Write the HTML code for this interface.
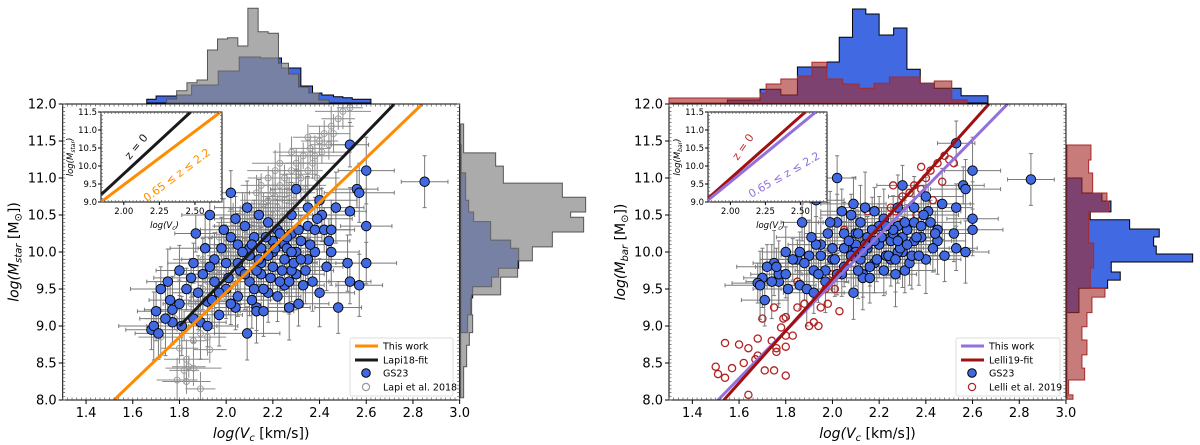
<!DOCTYPE html>
<html><head><meta charset="utf-8"><style>
body{margin:0;background:#fff}
svg{display:block;font-family:"DejaVu Sans","Liberation Sans",sans-serif}
</style></head><body>
<svg id="c" width="1200" height="445" viewBox="0 0 1200 445"></svg>
<script>
// ---------- data ----------
const gsVc   =[2.85,2.53,2.60,2.56,2.57,2.53,2.60,2.60,2.52,2.57,2.53,2.41,2.47,2.40,2.35,2.38,2.42,2.45,2.30,2.40,2.48,2.02,1.93,1.87,2.28,2.25,2.20,2.15,2.10,2.05,2.00,1.95,1.90,1.85,1.80,1.75,1.72,1.70,1.68,1.69,1.71,1.77,1.77,1.76,1.81,1.86,1.89,1.92,1.92,1.97,2.04,2.09,2.13,2.13,2.16,2.27,2.31,2.00,2.05,2.10,2.15,2.20,2.25,2.30,2.22,2.18,2.12,2.08,2.02,1.98,1.95,2.25,2.30,2.35,2.32,2.28,2.23,2.18,2.12,2.06,2.26,2.38,2.45,2.15,2.20,2.10,1.88,1.83,1.93,2.28,2.33,
 2.05,2.08,2.11,2.14,2.17,2.19,2.21,2.24,2.26,2.29,2.31,2.34,2.36,2.39,2.43,2.01,1.97,1.94,1.99,2.04,2.09,2.14,2.16,2.22,2.27,2.32,2.37,1.86,1.91,2.07,2.13,2.18,2.23,2.28,1.80,1.74,2.02,2.11,2.35,2.44];
const gsMstar=[10.95,11.45,11.10,10.85,10.80,10.55,10.35,9.85,9.85,9.55,9.60,10.50,10.60,10.70,10.35,10.30,10.30,10.30,10.85,9.45,9.25,10.80,10.50,10.25,10.25,10.10,10.00,10.05,9.95,10.10,9.85,9.90,9.70,9.65,9.75,9.60,9.50,9.20,8.95,9.00,8.90,9.05,9.22,9.35,9.00,9.10,9.05,9.00,9.33,9.15,9.25,8.90,9.25,9.20,9.20,9.25,9.30,9.50,9.40,9.60,9.70,9.80,9.90,10.00,10.30,10.40,10.20,10.35,10.20,10.05,9.60,9.55,9.70,9.90,10.15,10.50,9.60,9.45,9.50,9.75,10.05,10.00,10.00,9.85,10.15,10.05,9.45,9.50,9.80,9.75,9.55,
 9.85,9.70,10.10,9.90,10.20,9.65,10.05,9.75,10.20,9.85,10.30,9.75,10.10,10.45,9.80,9.65,9.45,9.35,10.30,10.45,10.60,10.50,9.50,9.40,9.60,9.90,9.60,9.85,10.05,10.00,9.75,9.95,10.25,10.00,9.30,9.10,9.30,9.35,10.60,10.15];
const gsMbar =[10.98,11.47,11.10,10.90,10.85,10.60,10.45,10.30,10.25,10.00,10.05,10.55,10.65,10.75,10.40,10.35,10.40,10.30,10.90,9.90,9.95,11.00,10.70,10.40,10.35,10.20,10.15,10.20,10.10,10.25,10.05,10.10,9.95,9.90,10.00,9.85,9.80,9.65,9.58,9.55,9.35,9.60,9.70,9.80,9.50,9.55,9.50,9.45,9.75,9.60,9.70,9.45,9.70,9.65,9.65,9.70,9.75,9.90,9.80,10.00,10.05,10.10,10.15,10.20,10.45,10.55,10.40,10.50,10.40,10.25,9.95,9.90,10.00,10.15,10.30,10.60,9.95,9.85,9.90,10.05,10.25,10.20,10.15,10.10,10.35,10.25,9.85,9.90,10.10,10.00,9.85,
 10.05,9.95,10.25,10.10,10.30,9.90,10.20,9.95,10.30,10.05,10.40,9.95,10.20,10.50,10.05,9.90,9.75,9.70,10.40,10.55,10.65,10.60,9.80,9.75,9.90,10.10,9.95,10.00,10.20,10.15,10.00,10.15,10.35,10.15,9.70,9.60,9.70,9.75,10.60,10.25];
const gsXerr =[0.10,0.08,0.12,0.09,0.15,0.07,0.11,0.13,0.08,0.10,0.09,0.14,0.12,0.16,0.10,0.09,0.13,0.08,0.11,0.15];
const gsYerr =[0.35,0.30,0.45,0.25,0.40,0.32,0.50,0.28,0.38,0.42,0.30,0.36,0.48,0.26,0.34,0.44,0.30,0.40,0.27,0.46];
const lapiVc =[1.85,1.88,1.90,1.92,1.93,1.95,1.96,1.97,1.98,2.00,2.00,2.02,2.03,2.05,2.05,2.07,2.08,2.10,2.10,2.12,2.13,2.15,2.15,2.17,2.18,2.20,2.20,2.22,2.23,2.25,2.25,2.27,2.28,2.30,2.30,2.32,2.33,2.35,2.36,2.38,2.40,2.42,2.45,2.48,2.50,2.53,1.95,2.00,2.05,2.12,2.18,2.22,2.27,1.90,1.97,2.03,2.08,2.13,2.18,2.23,1.80,1.82,1.83,1.84,1.86,1.86,1.79,1.83,1.89,1.92,1.93,1.89,1.72,1.78,1.82,
 1.95,1.98,2.01,2.04,2.06,2.09,2.11,2.14,2.16,2.19,2.21,2.24,2.26,2.29,2.31,2.34,2.37,2.39,2.41,2.44,2.46,2.00,2.07,2.15,2.21,2.28,2.35,1.92,1.99,2.06];
const lapiM  =[9.30,9.20,9.50,9.40,9.70,9.50,9.80,9.60,10.00,9.70,9.90,10.10,9.80,10.20,10.00,9.90,10.30,10.10,10.40,10.20,10.50,10.30,10.60,10.40,10.70,10.50,10.80,10.60,10.90,10.70,11.00,10.80,11.10,10.90,11.20,11.00,11.30,11.10,11.40,11.30,11.50,11.60,11.70,11.80,11.90,11.95,9.20,9.40,9.70,9.90,10.10,10.30,10.50,9.90,10.20,10.40,10.60,10.80,11.00,11.20,8.70,8.40,8.55,8.45,8.43,8.80,8.27,8.25,8.15,8.85,8.68,8.90,8.85,9.10,9.00,
 9.75,9.60,10.05,9.90,10.35,10.20,10.50,10.35,10.65,10.45,10.75,10.55,10.90,10.70,11.05,10.85,11.20,11.00,11.35,11.45,11.60,10.20,10.55,10.90,11.10,11.35,11.55,9.60,9.95,10.10];
const lelliVc=[1.50,1.51,1.54,1.54,1.57,1.62,1.64,1.64,1.67,1.68,1.68,1.71,1.74,1.75,1.76,1.76,1.78,1.80,1.80,1.80,1.83,1.79,1.80,1.85,1.90,1.92,1.94,1.95,2.03,1.88,1.92,1.97,2.00,2.05,2.08,2.10,2.12,2.15,2.18,2.20,2.22,2.25,2.27,2.30,2.33,2.35,2.38,2.40,2.42,2.45,2.48,2.50,2.52,2.47,2.43,2.36,2.30,1.85,1.75,1.70,2.05,2.15,2.26,2.38,2.01,1.98,1.60];
const lelliM =[8.45,8.35,8.77,8.30,8.43,8.50,8.70,8.07,8.55,8.60,8.83,8.40,8.80,8.40,8.65,8.70,8.98,8.72,8.33,8.87,8.87,9.10,9.12,9.25,9.00,9.05,9.00,9.25,9.20,9.30,9.45,9.50,9.70,9.80,9.95,10.10,9.90,10.20,10.30,10.15,10.45,10.60,10.55,10.75,10.80,10.90,10.85,11.00,11.10,11.20,11.30,11.25,11.20,10.95,10.70,10.50,10.40,9.60,9.25,9.10,10.30,10.55,10.90,11.15,9.50,9.30,8.75];
// fit lines [x1,y1,x2,y2]
const fitThisWorkL=[1.52,8.0,2.84,12.0];
const fitLapi     =[1.80,9.0,2.72,12.0];
const fitThisWorkR=[1.51,8.0,2.75,12.0];
const fitLelli    =[1.535,8.0,2.67,12.0];
const insetLz0L=[1.84,9.2,2.47,11.5], insetLhzL=[1.84,9.0,2.68,11.5];
const insetLz0R=[1.84,9.1,2.535,11.5], insetLhzR=[1.84,9.05,2.61,11.5];
// histograms: edges + heights
const topGreyEdges=[1.745,1.788,1.832,1.875,1.920,1.963,2.006,2.050,2.093,2.137,2.180,2.224,2.267,2.310,2.354,2.397,2.44];
const topGreyH    =[4,12.3,20.3,23,53,64,65.3,57,94.7,71.3,69.7,39.7,29,16,10,3];
const topBlueEdges=[1.66,1.70,1.788,1.852,1.966,2.056,2.147,2.237,2.32,2.37,2.41,2.46,2.50,2.54,2.62];
const topBlueH    =[3.7,7,8,18,32,46,45,35,17,10,8,6.3,5.3,3.7];
const sideGreyEdges=[8.03,8.45,8.74,8.91,9.15,9.42,9.66,9.88,10.07,10.27,10.47,10.54,10.74,10.93,11.16,11.34,11.73];
const sideGreyH    =[3,6,8.7,12,11,40,57,71.7,91.7,123,110,125,101.7,42.7,35,3];
const sideBlueEdges=[8.91,9.15,9.38,9.53,9.66,9.78,10.05,10.16,10.41,10.54,10.70,11.07,11.45];
const sideBlueH    =[7,10,12,31,38,58,50,30,13,8,5,0.5];
const rTopBlueEdges=[1.55,1.69,1.779,1.85,1.976,2.029,2.086,2.143,2.20,2.262,2.319,2.376,2.436,2.551,2.666];
const rTopBlueH    =[3,13.7,8,36,41,65.7,94,89,68,75,33.7,19.7,14.7,7.3];
const rTopRedEdges =[1.30,1.69,1.716,1.779,1.85,1.912,1.976,2.044,2.114,2.179,2.244,2.376,2.436,2.511,2.576];
const rTopRedH     =[5,9.7,19,24,27,40.7,24,19,14.7,19.7,26,19.7,22,3.3];
const rSideRedEdges=[8.01,8.07,8.27,8.43,8.61,8.81,8.99,9.18,9.39,9.51,9.784,9.932,10.122,10.543,10.689,10.797,11.068,11.243,11.446];
const rSideRedH    =[6,1.7,17.7,15,20,15,20,25,38,23.3,26.7,26.7,21.7,41.7,40,25.7,21.7,24];
const rSideBlueEdges=[9.18,9.51,9.62,9.73,9.865,9.973,10.081,10.203,10.311,10.435,10.543,10.689,10.797,11.0];
const rSideBlueH    =[12,40.7,53.3,44.3,125.7,89.3,86.7,92.3,62.7,23.3,44,35,15];
const xTicks=[1.4,1.6,1.8,2.0,2.2,2.4,2.6,2.8,3.0];
const yTicks=[8.0,8.5,9.0,9.5,10.0,10.5,11.0,11.5,12.0];
const inXTicks=[2.00,2.25,2.50];
const inYTicks=[9.0,9.5,10.0,10.5,11.0,11.5];

// ---------- drawing ----------
const svg=document.getElementById('c');
const NS='http://www.w3.org/2000/svg';
function mk(tag,attrs,parent,text){const e=document.createElementNS(NS,tag);for(const k in attrs)e.setAttribute(k,attrs[k]);if(text!==undefined)e.textContent=text;(parent||svg).appendChild(e);return e;}
const Y0=400, YT=104;
function ys(m){return Y0-(m-8)*74;}
const defs=mk('defs',{});

function stepTop(edges,h,xs,base){let d='M'+xs(edges[0])+','+base;for(let i=0;i<h.length;i++){d+=' L'+xs(edges[i])+','+(base-h[i])+' L'+xs(edges[i+1])+','+(base-h[i]);}d+=' L'+xs(edges[edges.length-1])+','+base+' Z';return d;}
function stepSide(edges,h,base){let d='M'+base+','+ys(edges[0]);for(let i=0;i<h.length;i++){d+=' L'+(base+h[i])+','+ys(edges[i])+' L'+(base+h[i])+','+ys(edges[i+1]);}d+=' L'+base+','+ys(edges[edges.length-1])+' Z';return d;}

function panel(P){
  const xs=v=>P.x0+(v-1.3)*233.5;
  const X1=xs(3.0);
  const g=mk('g',{});
  
  
  const a=mk('path',{d:stepTop(P.tA[0],P.tA[1],xs,103),fill:P.cA,stroke:P.sA,'stroke-width':1},g);
  
  const b=mk('path',{d:stepTop(P.tB[0],P.tB[1],xs,103),fill:P.cB,'fill-opacity':P.oB,stroke:P.sB,'stroke-width':1},g);
  
  const c=mk('path',{d:stepSide(P.sAh[0],P.sAh[1],X1+1),fill:P.cA,stroke:P.sA,'stroke-width':1},g);
  
  const d=mk('path',{d:stepSide(P.sBh[0],P.sBh[1],X1+1),fill:P.cB,'fill-opacity':P.oB,stroke:P.sB,'stroke-width':1},g);
  
  mk('rect',{x:P.x0,y:YT,width:X1-P.x0,height:Y0-YT,fill:'#fff'},g);
  const cp=mk('clipPath',{id:'cp'+P.name},defs);mk('rect',{x:P.x0,y:YT,width:X1-P.x0,height:Y0-YT},cp);
  const pl=mk('g',{'clip-path':'url(#cp'+P.name+')'},g);
  if(P.lapi){for(let i=0;i<lapiVc.length;i++){const x=xs(lapiVc[i]),y=ys(lapiM[i]);const ex=gsXerr[i%20]*233.5*0.8,ey=gsYerr[i%20]*74*0.6;
    mk('path',{d:`M${x-ex},${y}H${x+ex}M${x},${y-ey}V${y+ey}`,stroke:'#8c8c8c','stroke-width':1},pl);}}
  const my=P.my;
  for(let i=0;i<gsVc.length;i++){const x=xs(gsVc[i]),y=ys(my[i]);const ex=gsXerr[i%20]*233.5,ey=gsYerr[i%20]*74;
    const eb=mk('path',{d:`M${x-ex},${y}H${x+ex}M${x},${y-ey}V${y+ey}M${x-ex},${y-2}v4M${x+ex},${y-2}v4M${x-2},${y-ey}h4M${x-2},${y+ey}h4`,stroke:'#7a7a7a','stroke-width':1},pl);
    }
  if(P.lapi){for(let i=0;i<lapiVc.length;i++){const p=mk('circle',{cx:xs(lapiVc[i]),cy:ys(lapiM[i]),r:3,fill:'none',stroke:'#999','stroke-width':0.9},pl);
    }}
  if(!P.lapi){for(let i=0;i<lelliVc.length;i++){const p=mk('circle',{cx:xs(lelliVc[i]),cy:ys(lelliM[i]),r:3.6,fill:'none',stroke:'#b22222','stroke-width':1.3},pl);
    }}
  for(let i=0;i<gsVc.length;i++){const p=mk('circle',{cx:xs(gsVc[i]),cy:ys(my[i]),r:4.8,fill:'#4169e1',stroke:'#000','stroke-width':0.9},pl);
    }
  for(const f of P.fits){const l=mk('line',{x1:xs(f.d[0]),y1:ys(f.d[1]),x2:xs(f.d[2]),y2:ys(f.d[3]),stroke:f.c,'stroke-width':3},pl);
    }
  mk('rect',{x:P.x0,y:YT,width:X1-P.x0,height:Y0-YT,fill:'none',stroke:'#000','stroke-width':1},g);
  let t='';
  for(let v=1.3;v<=3.0001;v+=0.02){const x=xs(v);t+=`M${x},${Y0}v-2.5M${x},${YT}v2.5`;}
  for(let m=8;m<=12.0001;m+=0.05){const y=ys(m);t+=`M${P.x0},${y}h2.5M${X1},${y}h-2.5`;}
  mk('path',{d:t,stroke:'#555','stroke-width':0.7},g);
  for(const v of xTicks){const x=xs(v);mk('line',{x1:x,y1:Y0,x2:x,y2:Y0+4,stroke:'#000'},g);
    const tl=mk('text',{x:x,y:Y0+17,'font-size':13,'text-anchor':'middle'},g,v.toFixed(1));}
  for(const m of yTicks){const y=ys(m);mk('line',{x1:P.x0,y1:y,x2:P.x0-4,y2:y,stroke:'#000'},g);
    const tl=mk('text',{x:P.x0-6,y:y+4.5,'font-size':13,'text-anchor':'end'},g,m.toFixed(1));}
  const xl=mk('text',{x:(P.x0+X1)/2,y:Y0+38,'font-size':14,'text-anchor':'middle'},g);
  
  mk('tspan',{'font-style':'italic'},xl,'log(V');mk('tspan',{'font-size':10,dy:3,'font-style':'italic'},xl,'c');mk('tspan',{dy:-3},xl,' [km/s])');
  const yl=mk('text',{transform:`translate(${P.x0-44},252) rotate(-90)`,'font-size':14,'text-anchor':'middle'},g);
  
  mk('tspan',{'font-style':'italic'},yl,'log(M');mk('tspan',{'font-size':10,dy:3,'font-style':'italic'},yl,P.sub);mk('tspan',{dy:-3},yl,' [M');mk('tspan',{'font-size':10,dy:3},yl,'\u2299');mk('tspan',{dy:-3},yl,'])');
  const I=P.inset, ix=v=>I.x+(v-1.84)*((I.w)/(0.85)), iy=m=>I.y+I.h-(m-9)*(I.h/2.5);
  const ig=mk('g',{},g);
  mk('rect',{x:I.x,y:I.y,width:I.w,height:I.h,fill:'#fff',stroke:'#000'},ig);
  const icp=mk('clipPath',{id:'icp'+P.name},defs);mk('rect',{x:I.x,y:I.y,width:I.w,height:I.h},icp);
  const ipl=mk('g',{'clip-path':'url(#icp'+P.name+')'},ig);
  for(const f of I.lines){const l=mk('line',{x1:ix(f.d[0]),y1:iy(f.d[1]),x2:ix(f.d[2]),y2:iy(f.d[3]),stroke:f.c,'stroke-width':3},ipl);
    }
  let it='';
  for(let v=1.84;v<=2.69;v+=0.025){const x=ix(v);it+=`M${x},${I.y+I.h}v-2M${x},${I.y}v2`;}
  for(let m=9;m<=11.5001;m+=0.1){const y=iy(m);it+=`M${I.x},${y}h2M${I.x+I.w},${y}h-2`;}
  mk('path',{d:it,stroke:'#555','stroke-width':0.6},ig);
  for(const v of inXTicks){const x=ix(v);mk('line',{x1:x,y1:I.y+I.h,x2:x,y2:I.y+I.h+3,stroke:'#000'},ig);mk('text',{x:x,y:I.y+I.h+12,'font-size':8.5,'text-anchor':'middle'},ig,v.toFixed(2));}
  for(const m of inYTicks){const y=iy(m);mk('line',{x1:I.x,y1:y,x2:I.x-3,y2:y,stroke:'#000'},ig);mk('text',{x:I.x-4,y:y+3,'font-size':8.5,'text-anchor':'end'},ig,m.toFixed(1));}
  const ixl=mk('text',{x:I.x+I.w/2+3,y:I.y+I.h+26,'font-size':8.5,'text-anchor':'middle','font-style':'italic'},ig,'log(');mk('tspan',{},ixl,'V');mk('tspan',{'font-size':6,dy:2},ixl,'c');mk('tspan',{dy:-2},ixl,')');
  const iyl=mk('text',{transform:`translate(${I.x-28},${I.y+45}) rotate(-90)`,'font-size':8.5,'text-anchor':'middle','font-style':'italic'},ig,'log(M');mk('tspan',{'font-size':6,dy:2},iyl,P.sub);mk('tspan',{dy:-2},iyl,')');
  mk('text',{transform:`translate(${I.x+38},${I.y+37}) rotate(${I.r1})`,'font-size':11,fill:I.c1,'text-anchor':'middle'},ig,'z = 0');
  mk('text',{transform:`translate(${I.x+78},${I.y+66}) rotate(${I.r2})`,'font-size':11,fill:I.c2,'text-anchor':'middle'},ig,'0.65 \u2264 z \u2264 2.2');
  const L=P.leg, lg=mk('g',{},g);
  mk('rect',{x:L.x,y:338,width:L.w,height:58,rx:2,fill:'#fff',stroke:'#ddd'},lg);
  const rows=[346,360,373,387];
  mk('line',{x1:L.x+5,y1:rows[0],x2:L.x+28,y2:rows[0],stroke:P.fits[0].c,'stroke-width':3},lg);
  mk('line',{x1:L.x+5,y1:rows[1],x2:L.x+28,y2:rows[1],stroke:P.fits[1].c,'stroke-width':3},lg);
  mk('circle',{cx:L.x+16,cy:rows[2],r:4.3,fill:'#4169e1',stroke:'#000'},lg);
  mk('circle',{cx:L.x+16,cy:rows[3],r:3.6,fill:'none',stroke:P.lapi?'#999':'#b22222','stroke-width':1.2},lg);
  P.legText.forEach((s,i)=>{const e=mk('text',{x:L.x+33,y:rows[i]+3.5,'font-size':9.5},lg,s);});
}
panel({name:'left',x0:62.7,my:gsMstar,sub:'star',lapi:true,
  tA:[topBlueEdges,topBlueH],tB:[topGreyEdges,topGreyH],sAh:[sideBlueEdges,sideBlueH],sBh:[sideGreyEdges,sideGreyH],
  cA:'#4169e1',sA:'#000',cB:'#8a8a8a',oB:0.72,sB:'#555',
  fits:[{d:fitThisWorkL,c:'#ff8c00',n:'this-work-fit-line'},{d:fitLapi,c:'#1a1a1a',n:'lapi18-fit-line'}],
  inset:{x:101,y:112,w:121,h:90,lines:[{d:insetLz0L,c:'#1a1a1a',n:'inset-z0-line'},{d:insetLhzL,c:'#ff8c00',n:'inset-highz-line'}],c1:'#1a1a1a',c2:'#ff8c00',r1:-50,r2:-37},
  leg:{x:350,w:103},legText:['This work','Lapi18-fit','GS23','Lapi et al. 2018']});
panel({name:'right',x0:669,my:gsMbar,sub:'bar',lapi:false,
  tA:[rTopBlueEdges,rTopBlueH],tB:[rTopRedEdges,rTopRedH],sAh:[rSideBlueEdges,rSideBlueH],sBh:[rSideRedEdges,rSideRedH],
  cA:'#4169e1',sA:'#000',cB:'#a52a2a',oB:0.62,sB:'#a52a2a',
  fits:[{d:fitThisWorkR,c:'#9370db',n:'this-work-fit-line'},{d:fitLelli,c:'#a01010',n:'lelli19-fit-line'}],
  inset:{x:708,y:112,w:119,h:90,lines:[{d:insetLz0R,c:'#a01010',n:'inset-z0-line'},{d:insetLhzR,c:'#9370db',n:'inset-highz-line'}],c1:'#c03030',c2:'#9370db',r1:-55,r2:-30},
  leg:{x:956,w:104},legText:['This work','Lelli19-fit','GS23','Lelli et al. 2019']});
</script>
</body></html>
